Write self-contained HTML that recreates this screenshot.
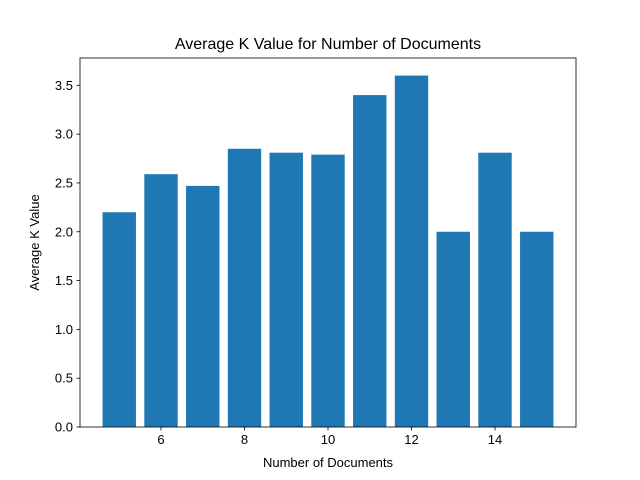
<!DOCTYPE html>
<html><head><meta charset="utf-8"><style>body{margin:0;background:#fff}svg{display:block;font-family:"Liberation Sans","DejaVu Sans",sans-serif}</style></head>
<body>
<svg id="chart" width="640" height="480"></svg>
<script>
const categories = [5, 6, 7, 8, 9, 10, 11, 12, 13, 14, 15];
const values = [2.2, 2.59, 2.47, 2.85, 2.81, 2.79, 3.4, 3.6, 2.0, 2.81, 2.0];
const xTicks = [6, 8, 10, 12, 14];
const yTicks = [0.0, 0.5, 1.0, 1.5, 2.0, 2.5, 3.0, 3.5];

const NS = "http://www.w3.org/2000/svg";
const svg = document.getElementById('chart');
const L = 80, R = 576, T = 58, B = 427, bw = 0.8;
const dmin = Math.min(...categories) - bw / 2, dmax = Math.max(...categories) + bw / 2;
const pad = (dmax - dmin) * 0.05;
const x0 = dmin - pad, x1 = dmax + pad;
const ymax = Math.max(...values) * 1.05;
const sx = v => L + (v - x0) / (x1 - x0) * (R - L);
const sy = v => B - v / ymax * (B - T);
function mk(tag, attrs, txt) {
  const e = document.createElementNS(NS, tag);
  for (const k in attrs) e.setAttribute(k, attrs[k]);
  if (txt !== undefined) e.textContent = txt;
  svg.appendChild(e);
  return e;
}
categories.forEach((c, i) => {
  const r = mk('rect', {x: sx(c - bw / 2), y: sy(values[i]), width: sx(c + bw / 2) - sx(c - bw / 2), height: B - sy(values[i]), fill: '#1f77b4'});
  
  
});
const frame = mk('rect', {x: L, y: T, width: R - L, height: B - T, fill: 'none', stroke: '#000', 'stroke-width': 0.8});


xTicks.forEach(t => {
  const x = sx(t);
  mk('line', {x1: x, x2: x, y1: B, y2: B + 3.5, stroke: '#000', 'stroke-width': 0.8});
  const lb = mk('text', {x: x, y: B + 17, 'text-anchor': 'middle', 'font-size': 13}, String(t));
  
  
});
yTicks.forEach(t => {
  const y = sy(t);
  mk('line', {x1: L - 3.5, x2: L, y1: y, y2: y, stroke: '#000', 'stroke-width': 0.8});
  const lb = mk('text', {x: L - 7, y: y + 4.5, 'text-anchor': 'end', 'font-size': 13}, t.toFixed(1));
  
  
});
const xt = mk('text', {x: (L + R) / 2, y: 467, 'text-anchor': 'middle', 'font-size': 13}, 'Number of Documents');


const yt = mk('text', {x: 0, y: 0, 'text-anchor': 'middle', 'font-size': 13, transform: `translate(39,${(T + B) / 2}) rotate(-90)`}, 'Average K Value');


const tt = mk('text', {x: (L + R) / 2, y: 49, 'text-anchor': 'middle', 'font-size': 16}, 'Average K Value for Number of Documents');


</script>
</body></html>
